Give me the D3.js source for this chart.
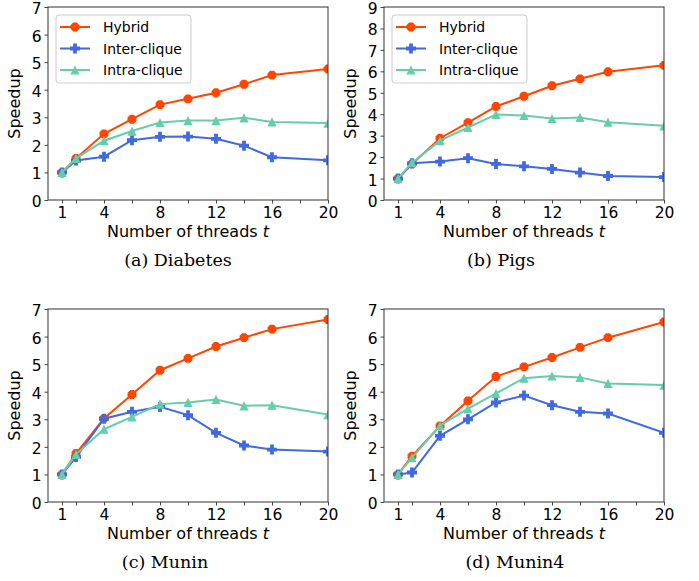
<!DOCTYPE html>
<html>
<head>
<meta charset="utf-8">
<script src="https://cdn.jsdelivr.net/npm/d3@7/dist/d3.min.js"></script>
<style>
  body { margin: 0; background: #fff; }
  svg { display: block; }
  .tick text { font-family: "DejaVu Sans", sans-serif; font-size: 15.5px; fill: #000; }
</style>
</head>
<body>
<div id="chart"></div>
<script>
// thread counts on the x axis
var threads = [1, 2, 4, 6, 8, 10, 12, 14, 16, 20];
var xTicks = [1, 2, 4, 6, 8, 10, 12, 14, 16, 18, 20];
var xTickLabels = {1: "1", 4: "4", 8: "8", 12: "12", 16: "16", 20: "20"};

var seriesNames = ["Hybrid", "Inter-clique", "Intra-clique"];

var diabetesHybrid = [1.0, 1.51, 2.40, 2.93, 3.46, 3.67, 3.89, 4.20, 4.53, 4.75];
var diabetesInter  = [1.0, 1.43, 1.57, 2.17, 2.29, 2.30, 2.22, 1.97, 1.55, 1.44];
var diabetesIntra  = [1.0, 1.51, 2.15, 2.50, 2.81, 2.88, 2.88, 2.98, 2.83, 2.79];

var pigsHybrid = [1.0, 1.68, 2.88, 3.61, 4.36, 4.84, 5.33, 5.65, 5.98, 6.28];
var pigsInter  = [1.0, 1.71, 1.79, 1.95, 1.68, 1.57, 1.45, 1.28, 1.12, 1.07];
var pigsIntra  = [1.0, 1.74, 2.77, 3.38, 3.99, 3.94, 3.80, 3.85, 3.63, 3.46];

var muninHybrid = [1.0, 1.76, 3.03, 3.90, 4.78, 5.21, 5.64, 5.96, 6.27, 6.62];
var muninInter  = [1.0, 1.63, 3.02, 3.27, 3.45, 3.15, 2.51, 2.05, 1.90, 1.83];
var muninIntra  = [1.0, 1.73, 2.64, 3.09, 3.55, 3.61, 3.72, 3.49, 3.51, 3.17];

var munin4Hybrid = [1.0, 1.66, 2.76, 3.67, 4.55, 4.90, 5.24, 5.61, 5.96, 6.53];
var munin4Inter  = [1.0, 1.07, 2.40, 3.00, 3.61, 3.86, 3.51, 3.27, 3.21, 2.51];
var munin4Intra  = [1.0, 1.61, 2.77, 3.39, 3.94, 4.49, 4.57, 4.52, 4.30, 4.24];

var colors = {"Hybrid": "#ff4500", "Inter-clique": "#4169e1", "Intra-clique": "#66cdaa"};

var panels = [
  {caption: "(a) Diabetes", ymax: 7, left: 48, top: 7, capX: 178, legend: true,
   series: [diabetesHybrid, diabetesInter, diabetesIntra]},
  {caption: "(b) Pigs", ymax: 9, left: 384, top: 7, capX: 501, legend: true,
   series: [pigsHybrid, pigsInter, pigsIntra]},
  {caption: "(c) Munin", ymax: 7, left: 48, top: 309, capX: 165, legend: false,
   series: [muninHybrid, muninInter, muninIntra]},
  {caption: "(d) Munin4", ymax: 7, left: 384, top: 309, capX: 515, legend: false,
   series: [munin4Hybrid, munin4Inter, munin4Intra]}
];

var W = 699, H = 581;
var pw = 280, ph = 193;

var svg = d3.select("#chart").append("svg")
    .attr("width", W)
    .attr("height", H);

// marker shapes: octagon, filled plus, triangle
function octagon(r) {
  var pts = [];
  for (var i = 0; i < 8; i++) {
    var a = Math.PI / 8 + i * Math.PI / 4;
    pts.push([r * Math.cos(a), r * Math.sin(a)]);
  }
  return "M" + pts.map(function(p) { return p.join(","); }).join("L") + "Z";
}
function plus(r) {
  var t = r * 0.38;
  return "M" + [[-t,-r],[t,-r],[t,-t],[r,-t],[r,t],[t,t],[t,r],[-t,r],[-t,t],[-r,t],[-r,-t],[-t,-t]]
    .map(function(p) { return p.join(","); }).join("L") + "Z";
}
function triangle(r) {
  return "M0," + (-r) + "L" + r + "," + r + "L" + (-r) + "," + r + "Z";
}
var markers = {
  "Hybrid": octagon(4.8),
  "Inter-clique": plus(5),
  "Intra-clique": triangle(4.6)
};

panels.forEach(function(p, pi) {
  var x = d3.scaleLinear().domain([0, 20]).range([0, pw]);
  var y = d3.scaleLinear().domain([0, p.ymax]).range([ph, 0]);

  var g = svg.append("g")
      .attr("transform", "translate(" + p.left + "," + p.top + ")");

  g.append("clipPath")
      .attr("id", "clip" + pi)
      .append("rect")
      .attr("width", pw)
      .attr("height", ph);

  // axes
  var xAxis = g.append("g")
      .attr("transform", "translate(0," + ph + ")")
      .call(d3.axisBottom(x)
        .tickValues(xTicks)
        .tickSize(3.5)
        .tickPadding(3)
        .tickFormat(function(d) { return xTickLabels[d] || ""; }));

  var yAxis = g.append("g")
      .call(d3.axisLeft(y)
        .ticks(p.ymax)
        .tickSize(3.5)
        .tickPadding(3)
        .tickFormat(d3.format("d")));
  yAxis.selectAll(".tick text").attr("dy", "0.42em");

  [xAxis, yAxis].forEach(function(a) {
    a.select(".domain").remove();
    a.selectAll(".tick line").attr("stroke", "#333").attr("stroke-width", 0.9);
  });

  // lines and markers
  var plot = g.append("g").attr("clip-path", "url(#clip" + pi + ")");

  p.series.forEach(function(vals, si) {
    var name = seriesNames[si];
    var pts = threads.map(function(t, i) { return {t: t, v: vals[i]}; });

    plot.append("path")
        .datum(pts)
        .attr("fill", "none")
        .attr("stroke", colors[name])
        .attr("stroke-width", 2)
        .attr("d", d3.line()
          .x(function(d) { return x(d.t); })
          .y(function(d) { return y(d.v); }));

    plot.selectAll(".m" + si)
        .data(pts)
        .enter().append("path")
        .attr("class", "m" + si)
        .attr("d", markers[name])
        .attr("fill", colors[name])
        .attr("transform", function(d) {
          return "translate(" + x(d.t) + "," + y(d.v) + ")";
        });
  });

  // frame
  g.append("rect")
      .attr("width", pw)
      .attr("height", ph)
      .attr("fill", "none")
      .attr("stroke", "#333")
      .attr("stroke-width", 1);

  // axis labels
  g.append("text")
      .attr("transform", "translate(" + (-28) + "," + (ph / 2) + ") rotate(-90)")
      .attr("text-anchor", "middle")
      .attr("font-family", "DejaVu Sans, sans-serif")
      .attr("font-size", 16)
      .text("Speedup");

  var xl = g.append("text")
      .attr("x", pw / 2)
      .attr("y", ph + 37)
      .attr("text-anchor", "middle")
      .attr("font-family", "DejaVu Sans, sans-serif")
      .attr("font-size", 16);
  xl.append("tspan").text("Number of threads ");
  xl.append("tspan").attr("font-style", "italic").text("t");

  // caption
  svg.append("text")
      .attr("x", p.capX)
      .attr("y", p.top + ph + 66)
      .attr("text-anchor", "middle")
      .attr("font-family", "DejaVu Serif, serif")
      .attr("font-size", 17.5)
      .text(p.caption);

  // legend
  if (p.legend) {
    var lg = g.append("g").attr("transform", "translate(8,8)");
    lg.append("rect")
        .attr("width", 135)
        .attr("height", 68)
        .attr("rx", 3)
        .attr("fill", "#fff")
        .attr("fill-opacity", 0.85)
        .attr("stroke", "#ccc")
        .attr("stroke-width", 1);
    seriesNames.forEach(function(name, i) {
      var row = lg.append("g").attr("transform", "translate(0," + (12 + i * 21.5) + ")");
      row.append("line")
          .attr("x1", 4).attr("x2", 34)
          .attr("stroke", colors[name])
          .attr("stroke-width", 2);
      row.append("path")
          .attr("d", markers[name])
          .attr("fill", colors[name])
          .attr("transform", "translate(19,0)");
      row.append("text")
          .attr("x", 47)
          .attr("y", 5)
          .attr("font-family", "DejaVu Sans, sans-serif")
          .attr("font-size", 14)
          .text(name);
    });
  }
});
</script>
</body>
</html>
